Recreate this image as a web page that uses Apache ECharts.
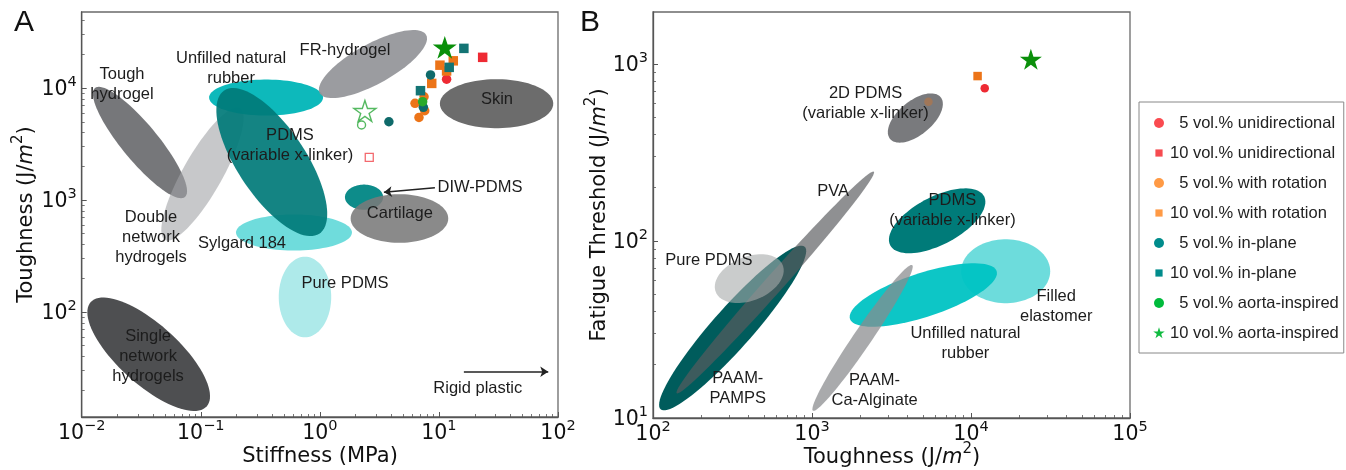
<!DOCTYPE html>
<html><head><meta charset="utf-8">
<script src="https://cdn.jsdelivr.net/npm/echarts@6/dist/echarts.min.js"></script>
<style>html,body{margin:0;padding:0;background:#fff}#chart{width:1346px;height:470px}</style>
</head><body><div id="chart"></div>
<script>
// ================= DATA =================
// Panel A: stiffness (MPa) vs toughness (J/m2)
const A_uni5    = [[11.6, 12000]];
const A_uni10   = [[23.3, 18800]];
const A_rot5    = [[6.3, 7300], [7.5, 8360], [7.6, 6270], [6.8, 5470]];
const A_rot10   = [[10.2, 16000], [13.2, 17500], [11.6, 14200], [8.7, 11000]];
const A_inp5    = [[8.5, 13100], [7.4, 6730], [3.8, 5000]];
const A_inp10   = [[16.2, 22600], [12.2, 15300], [7.0, 9470]];
const A_aorta5  = [[7.3, 7550]];
const A_aorta10 = [[11.2, 23100]];
const A_openStar   = [[2.39, 6240]];
const A_openCircle = [[2.24, 4680]];
const A_openSquare = [[2.60, 2400]];

// Panel B: toughness (J/m2) vs fatigue threshold (J/m2)
const B_uni5    = [[12200, 730]];
const B_rot5    = [[5400, 612]];
const B_rot10   = [[11000, 855]];
const B_aorta10 = [[23800, 1065]];

// Material regions (ellipses): major-axis end points (data units), minor semi-axis in decades
const ellA_name = ['Tough hydrogel', 'Double network hydrogels', 'Sylgard 184', 'Unfilled natural rubber',
  'PDMS (variable x-linker)', 'Pure PDMS', 'FR-hydrogel', 'Skin', 'DIW-PDMS', 'Cartilage', 'Single network hydrogels'];
const ellA_from = [[0.01294, 10000], [0.0501, 440], [0.1977, 513], [0.1175, 8220],
  [0.1574, 9520], [0.75, 312], [0.998, 9000], [10.19, 7250], [1.625, 1060], [1.814, 684], [0.01191, 122.7]];
const ellA_to = [[0.0736, 1064], [0.2133, 6620], [1.860, 513], [1.064, 8220],
  [0.990, 501], [0.75, 59.5], [7.81, 29800], [91.2, 7250], [3.40, 1060], [11.97, 684], [0.1120, 14.35]];
const ellA_half = [0.157, 0.17, 0.156, 0.156, 0.296, 0.227, 0.174, 0.212, 0.109, 0.21, 0.26];

const ellB_name = ['Filled elastomer', 'Unfilled natural rubber', 'PAAM-Ca-Alginate', 'PAAM-PAMPS', 'PVA',
  'Pure PDMS', '2D PDMS (variable x-linker)', 'PDMS (variable x-linker)'];
const ellB_from = [[8670, 67.5], [1734, 36.3], [1014, 11.0], [111.7, 11.2], [140.9, 13.79],
  [248.3, 51.5], [3097, 377.6], [3105, 94.6]];
const ellB_to = [[31480, 67.5], [14490, 67.6], [4266, 73.1], [899, 92.9], [2449, 246.4],
  [654.6, 73.0], [6442, 650], [12080, 178.9]];
const ellB_half = [0.19, 0.131, 0.054, 0.119, 0.054, 0.131, 0.101, 0.143];

// Text annotations (anchor in data units)
const notesA_text = ['Tough\nhydrogel', 'Unfilled natural\nrubber', 'PDMS\n(variable x-linker)', 'FR-hydrogel', 'Skin',
  'DIW-PDMS', 'Cartilage', 'Double\nnetwork\nhydrogels', 'Sylgard 184', 'Pure PDMS', 'Single\nnetwork\nhydrogels', 'Rigid plastic'];
const notesA_at = [[0.0218, 10860], [0.1796, 15100], [0.561, 3100], [1.626, 21800], [30.7, 7930],
  [22.1, 1306], [4.70, 766], [0.0382, 468], [0.222, 413], [1.626, 181.6], [0.0361, 40.5], [21.2, 20.8]];
const notesB_text = ['2D PDMS\n(variable x-linker)', 'PVA', 'PDMS\n(variable x-linker)', 'Pure PDMS', 'PAAM-\nPAMPS',
  'PAAM-\nCa-Alginate', 'Unfilled natural\nrubber', 'Filled\nelastomer'];
const notesB_at = [[2173, 602], [1358, 189.9], [7640, 149.6], [224.6, 77.4], [341.7, 14.77],
  [2475, 14.39], [9230, 26.5], [34360, 42.96]];
const arrowsA = [[[16.2, 29.3], [82.8, 29.3]], [[9.25, 1289], [3.45, 1172]]];

// Axes
const xTicksA = [0.01, 0.1, 1, 10, 100];
const yTicksA = [100, 1000, 10000];
const xTicksB = [100, 1000, 10000, 100000];
const yTicksB = [10, 100, 1000];
const rangeA = {x: [0.01, 100], y: [11.55, 47750]};
const rangeB = {x: [100, 100000], y: [10, 1968]};
const xTitleA = 'Stiffness (MPa)';
const xTitleB = '{t|Toughness (J/}{i|m}{s|2}{t|)}';
const yTitleA = '{t|Toughness (J/}{i|m}{s|2}{t|)}';
const yTitleB = '{t|Fatigue Threshold (J/}{i|m}{s|2}{t|)}';

const legendNames = ['5 vol.% unidirectional', '10 vol.% unidirectional', '5 vol.% with rotation', '10 vol.% with rotation',
  '5 vol.% in-plane', '10 vol.% in-plane', '5 vol.% aorta-inspired', '10 vol.% aorta-inspired'];

// ================= STYLE =================
const STAR = 'path://M50,0L61.2,34.5L97.6,34.5L68.2,55.9L79.4,90.5L50,69.1L20.6,90.5L31.8,55.9L2.4,34.5L38.8,34.5Z';
// legend icons drawn inside a fixed 12x12 box (leading moveTo points fix the box)
const ICON_CIRCLE = 'path://M0,0M12,12M1,6a5,5 0 1,0 10,0a5,5 0 1,0 -10,0Z';
const ICON_SQUARE = 'path://M0,0M12,12M2.4,2.4L9.6,2.4L9.6,9.6L2.4,9.6Z';
const ICON_STAR = 'path://M0,0M12,12M6,0.3L7.35,4.45L11.72,4.45L8.19,7L9.53,11.15L6,8.6L2.47,11.15L3.81,7L0.28,4.45L4.65,4.45Z';
const ellA_fill = ['#6f7073', '#a2a3a6', '#5fd8d8', '#00b5b7', '#007a78', '#aeeaea', '#939498', '#6c6c6c', '#008684', '#7a7a7a', '#4e4f51'];
const ellA_alpha = [0.95, 0.6, 0.9, 0.95, 0.92, 1, 0.92, 1, 0.95, 0.88, 1];
const ellB_fill = ['#5dd8d8', '#00c3c3', '#898a8d', '#005c5c', '#5a5b5e', '#a7aaaa', '#6e6f72', '#007b79'];
const ellB_alpha = [0.9, 0.95, 0.73, 1, 0.68, 0.6, 0.92, 1];
const FONT_TICK = 'DejaVu Sans';
const FONT_TXT = 'Liberation Sans, Arial, sans-serif';
const AX = '#555';

function minorValues(lo, hi) {
  const out = [];
  for (let d = Math.floor(Math.log10(lo)); d <= Math.ceil(Math.log10(hi)); d++) {
    for (let m = 2; m <= 9; m++) { const v = m * Math.pow(10, d); if (v > lo && v < hi) out.push(v); }
  }
  return out;
}
function powLabel(v) {
  const e = Math.round(Math.log10(v));
  return '{b|10}{s|' + (e < 0 ? '\u2212' + (-e) : e) + '}';
}
const tickRich = {
  b: {fontFamily: FONT_TICK, fontSize: 20.5, color: '#111', lineHeight: 24, verticalAlign: 'bottom'},
  s: {fontFamily: FONT_TICK, fontSize: 14.5, color: '#111', lineHeight: 16, padding: [0, 0, 10, 0], verticalAlign: 'bottom'}
};
const nameRich = {
  t: {fontFamily: FONT_TICK, fontSize: 21, color: '#111', fill: '#111', lineHeight: 26, verticalAlign: 'bottom'},
  i: {fontFamily: FONT_TICK, fontSize: 21, fontStyle: 'italic', color: '#111', fill: '#111', lineHeight: 26, verticalAlign: 'bottom'},
  s: {fontFamily: FONT_TICK, fontSize: 15, color: '#111', fill: '#111', lineHeight: 16, padding: [0, 0, 11, 0], verticalAlign: 'bottom'}
};

function mainAxis(gridIndex, range, ticks, name, nameGap, isY, labelTicks) {
  return {
    type: 'log', logBase: 10, gridIndex, min: range[0], max: range[1],
    name, nameLocation: 'middle', nameGap,
    nameTextStyle: {fontFamily: FONT_TICK, fontSize: 21, color: '#111', rich: nameRich},
    axisLine: {show: true, lineStyle: {color: AX, width: 1.3}},
    axisTick: {show: true, inside: true, length: 5, customValues: ticks, lineStyle: {color: AX, width: 1}},
    axisLabel: {show: labelTicks.length > 0, customValues: labelTicks, formatter: powLabel, rich: tickRich, margin: isY ? 5 : 3,
      showMinLabel: true, showMaxLabel: true, hideOverlap: false},
    splitLine: {show: false}, minorTick: {show: false}
  };
}
function minorAxis(gridIndex, range, labelTicks) {
  const lab = labelTicks || [];
  return {
    type: 'log', logBase: 10, gridIndex, min: range[0], max: range[1],
    axisLine: {show: false}, splitLine: {show: false},
    axisLabel: {show: lab.length > 0, customValues: lab, formatter: powLabel, rich: tickRich, margin: 5,
      showMinLabel: true, showMaxLabel: true, hideOverlap: false},
    axisTick: {show: true, inside: true, length: 3, customValues: minorValues(range[0], range[1]), lineStyle: {color: AX, width: 0.8}}
  };
}

function ellipseSeries(xi, yi, from, to, half, fill, alpha, names) {
  return {
    type: 'custom', xAxisIndex: xi, yAxisIndex: yi, z: 2, silent: true, animation: false,
    data: from.map((p, i) => ({name: names[i], value: [p[0], p[1], to[i][0], to[i][1], half[i]]})),
    encode: {x: [0, 2], y: [1, 3]},
    renderItem: function (params, api) {
      const i = params.dataIndex;
      const P1 = api.coord([api.value(0), api.value(1)]);
      const P2 = api.coord([api.value(2), api.value(3)]);
      const sx = Math.abs(api.coord([api.value(0) * 10, api.value(1)])[0] - P1[0]);
      const sy = Math.abs(api.coord([api.value(0), api.value(1) * 10])[1] - P1[1]);
      const b = api.value(4) * (sx + sy) / 2;
      const cx = (P1[0] + P2[0]) / 2, cy = (P1[1] + P2[1]) / 2;
      const a = Math.hypot(P2[0] - P1[0], P2[1] - P1[1]) / 2;
      const th = Math.atan2(P2[1] - P1[1], P2[0] - P1[0]);
      const pts = [];
      for (let k = 0; k < 90; k++) {
        const t = k / 90 * 2 * Math.PI, u = a * Math.cos(t), v = b * Math.sin(t);
        pts.push([cx + u * Math.cos(th) - v * Math.sin(th), cy + u * Math.sin(th) + v * Math.cos(th)]);
      }
      return {type: 'polygon', shape: {points: pts}, style: {fill: fill[i], opacity: alpha[i]}};
    }
  };
}
function markers(name, xi, yi, data, symbol, size, color, extra) {
  return Object.assign({
    type: 'scatter', name, xAxisIndex: xi, yAxisIndex: yi, data, symbol, symbolSize: size, z: 5,
    symbolKeepAspect: true, itemStyle: {color, opacity: 1}, animation: false
  }, extra || {});
}
function notes(xi, yi, texts, at) {
  return {
    type: 'scatter', xAxisIndex: xi, yAxisIndex: yi, z: 6, silent: true, symbolSize: 1,
    itemStyle: {color: 'rgba(0,0,0,0)', opacity: 1},
    data: at.map((p, i) => ({name: texts[i], value: p})),
    label: {show: true, position: 'inside', formatter: '{b}', fontFamily: FONT_TXT, fontSize: 16.5,
      lineHeight: 20, color: '#1c1c1c', opacity: 1, align: 'center', verticalAlign: 'middle'}
  };
}

const RED = '#ee2a33', ORANGE = '#ec7418', TEAL = '#0f6a6a', TEALSQ = '#137474', GREEN = '#2aaa2a', STARG = '#0a8f0a';

const series = [
  ellipseSeries(0, 0, ellA_from, ellA_to, ellA_half, ellA_fill, ellA_alpha, ellA_name),
  ellipseSeries(2, 2, ellB_from, ellB_to, ellB_half, ellB_fill, ellB_alpha, ellB_name),
  markers(legendNames[0], 0, 0, A_uni5, 'circle', 9.5, RED),
  markers(legendNames[1], 0, 0, A_uni10, 'rect', 9.5, RED),
  markers(legendNames[2], 0, 0, A_rot5, 'circle', 9.5, ORANGE),
  markers(legendNames[3], 0, 0, A_rot10, 'rect', 9.5, ORANGE),
  markers(legendNames[4], 0, 0, A_inp5, 'circle', 9.5, TEAL),
  markers(legendNames[5], 0, 0, A_inp10, 'rect', 9.5, TEALSQ),
  markers(legendNames[6], 0, 0, A_aorta5, 'circle', 9.5, GREEN),
  markers(legendNames[7], 0, 0, A_aorta10, STAR, 24, STARG),
  markers('open star', 0, 0, A_openStar, STAR, 22, 'rgba(0,0,0,0)', {itemStyle: {color: 'rgba(255,255,255,0)', borderColor: '#2aa83a', borderWidth: 1.4}}),
  markers('open circle', 0, 0, A_openCircle, 'circle', 8, 'rgba(0,0,0,0)', {itemStyle: {color: 'rgba(255,255,255,0)', borderColor: '#2aa83a', borderWidth: 1.4}}),
  markers('open square', 0, 0, A_openSquare, 'rect', 8, 'rgba(0,0,0,0)', {itemStyle: {color: 'rgba(255,255,255,0)', borderColor: '#f0444a', borderWidth: 1.3}}),
  markers(legendNames[0], 2, 2, B_uni5, 'circle', 8.5, RED),
  markers(legendNames[2], 2, 2, B_rot5, 'circle', 8.5, ORANGE, {itemStyle: {color: ORANGE, opacity: 0.35}}),
  markers(legendNames[3], 2, 2, B_rot10, 'rect', 8.5, ORANGE),
  markers(legendNames[7], 2, 2, B_aorta10, STAR, 22, STARG),
  notes(0, 0, notesA_text, notesA_at),
  notes(2, 2, notesB_text, notesB_at),
  {
    type: 'lines', coordinateSystem: 'cartesian2d', xAxisIndex: 0, yAxisIndex: 0, z: 6, silent: true,
    symbol: ['none', 'arrow'], symbolSize: 8,
    lineStyle: {color: '#222', width: 1.5, opacity: 1},
    data: arrowsA.map(c => ({coords: c}))
  }
];

const legendColor = ['#fa4b50', '#f64b50', '#ff9a45', '#ff9a45', '#008c8c', '#008c8c', '#00bb3c', '#10bb40'];
const legendIcon = [ICON_CIRCLE, ICON_SQUARE, ICON_CIRCLE, ICON_SQUARE, ICON_CIRCLE, ICON_SQUARE, ICON_CIRCLE, ICON_STAR];

const gridBase = {outerBoundsMode: 'none', containLabel: false};
const option = {
  animation: false,
  backgroundColor: '#fff',
  title: [
    {text: 'A', left: 14, top: 8, padding: 0, textStyle: {fontFamily: FONT_TXT, fontSize: 30, fontWeight: 'normal', color: '#111'}},
    {text: 'B', left: 580, top: 8, padding: 0, textStyle: {fontFamily: FONT_TXT, fontSize: 30, fontWeight: 'normal', color: '#111'}}
  ],
  graphic: [
    {type: 'text', x: 320, y: 457, silent: true,
      style: {text: xTitleA, fontFamily: FONT_TICK, fontSize: 21, fill: '#111', align: 'center', verticalAlign: 'middle'}},
    {type: 'text', x: 892, y: 455, silent: true,
      style: {text: xTitleB, rich: nameRich, fontFamily: FONT_TICK, fontSize: 21, fill: '#111', align: 'center', verticalAlign: 'middle'}}
  ],
  grid: [
    Object.assign({left: 81.7, top: 12, width: 476.3, height: 405, show: true, borderColor: '#6a6a6a', borderWidth: 1.3, backgroundColor: 'transparent'}, gridBase),
    Object.assign({left: 81.7, top: 12, width: 476.3, height: 405, show: false}, gridBase),
    Object.assign({left: 653, top: 12, width: 477, height: 406, show: true, borderColor: '#6a6a6a', borderWidth: 1.3, backgroundColor: 'transparent'}, gridBase),
    Object.assign({left: 653, top: 12, width: 477, height: 406, show: false}, gridBase)
  ],
  xAxis: [
    mainAxis(0, rangeA.x, xTicksA, '', 30, false, xTicksA),
    minorAxis(1, rangeA.x),
    mainAxis(2, rangeB.x, xTicksB, '', 30, false, xTicksB),
    minorAxis(3, rangeB.x)
  ],
  yAxis: [
    mainAxis(0, rangeA.y, yTicksA, yTitleA, 45, true, yTicksA),
    minorAxis(1, rangeA.y),
    mainAxis(2, rangeB.y, yTicksB, yTitleB, 43, true, []),
    minorAxis(3, rangeB.y, yTicksB)
  ],
  legend: {
    orient: 'vertical', left: 1139, top: 102, padding: [11, 5, 10, 14], itemGap: 10,
    itemWidth: 12, itemHeight: 12, borderColor: '#888', borderWidth: 1, borderRadius: 0,
    backgroundColor: '#fff', selectedMode: false,
    textStyle: {fontFamily: FONT_TXT, fontSize: 16.5, color: '#222', lineHeight: 20},
    formatter: n => (n.indexOf('5 ') === 0 ? '  ' + n : n),
    data: legendNames.map((n, i) => ({name: n, icon: legendIcon[i], itemStyle: {color: legendColor[i], borderWidth: 0}}))
  },
  series
};
const chart = echarts.init(document.getElementById('chart'), null, {renderer: 'canvas'});
chart.setOption(option);
</script>
</body></html>
